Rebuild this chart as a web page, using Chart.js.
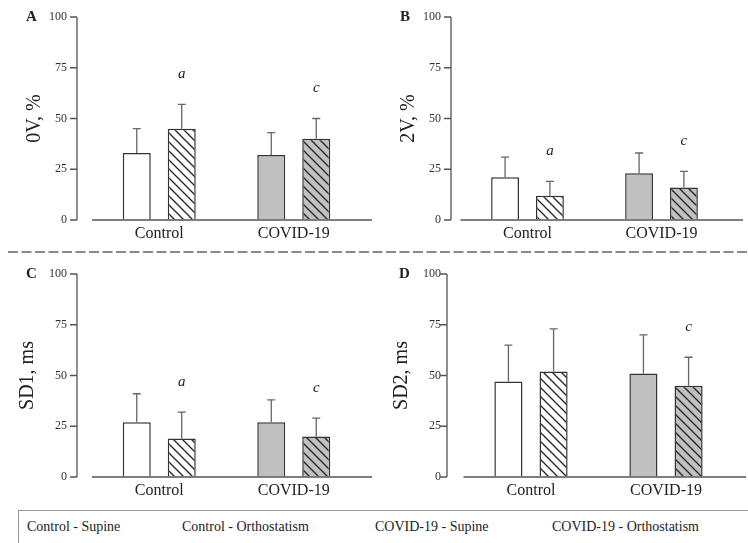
<!DOCTYPE html>
<html>
<head>
<meta charset="utf-8">
<script src="https://cdn.jsdelivr.net/npm/chart.js@4.4.0/dist/chart.umd.min.js"></script>
<style>
  body { margin: 0; background: #fff; width: 748px; height: 543px; overflow: hidden; position: relative;
         font-family: 'Liberation Serif', 'Times New Roman', serif; color: #222; }
  .panel { position: absolute; width: 374px; height: 248px; }
  .tag { position: absolute; font-weight: bold; font-size: 15px; line-height: 1; }
  .legend { position: absolute; left: 18px; top: 510px; width: 740px; height: 40px;
            border: 1.5px solid #9a9a9a; box-sizing: border-box; }
  .item { position: absolute; top: 520px; font-size: 14px; line-height: 1; white-space: nowrap; }
</style>
</head>
<body>
<div class="panel" style="left:0;top:0"><canvas id="chartA" width="374" height="248"></canvas></div>
<div class="panel" style="left:374px;top:0"><canvas id="chartB" width="374" height="248"></canvas></div>
<div class="panel" style="left:0;top:257px"><canvas id="chartC" width="374" height="248"></canvas></div>
<div class="panel" style="left:374px;top:257px"><canvas id="chartD" width="374" height="248"></canvas></div>

<div class="tag" style="left:26px;top:9px">A</div>
<div class="tag" style="left:400px;top:9px">B</div>
<div class="tag" style="left:26px;top:266px">C</div>
<div class="tag" style="left:399px;top:266px">D</div>

<svg style="position:absolute;left:0;top:246px" width="748" height="12">
  <line x1="8" y1="6" x2="748" y2="6" stroke="#8a8a8a" stroke-width="2" stroke-dasharray="10 3.5"/>
</svg>

<div class="legend"></div>
<span class="item" style="left:27px">Control - Supine</span>
<span class="item" style="left:182px">Control - Orthostatism</span>
<span class="item" style="left:375px">COVID-19 - Supine</span>
<span class="item" style="left:552px">COVID-19 - Orthostatism</span>

<script>
// groups and axis ticks
const groups = ['Control', 'COVID-19'];
const yTicks = [0, 25, 50, 75, 100];

// A - 0V, %
const ovSupine = [33, 32];
const ovSupineSD = [12, 11];
const ovOrtho = [45, 40];
const ovOrthoSD = [12, 10];
const ovMarks = ['a', 'c'];

// B - 2V, %
const twoVSupine = [21, 23];
const twoVSupineSD = [10, 10];
const twoVOrtho = [12, 16];
const twoVOrthoSD = [7, 8];
const twoVMarks = ['a', 'c'];

// C - SD1, ms
const sd1Supine = [27, 27];
const sd1SupineSD = [14, 11];
const sd1Ortho = [19, 20];
const sd1OrthoSD = [13, 9];
const sd1Marks = ['a', 'c'];

// D - SD2, ms
const sd2Supine = [47, 51];
const sd2SupineSD = [18, 19];
const sd2Ortho = [52, 45];
const sd2OrthoSD = [21, 14];
const sd2Marks = ['', 'c'];

const FONT = "'Liberation Serif', 'Times New Roman', serif";

// diagonal hatch fill for the orthostatism bars
function hatch(base) {
    const c = document.createElement('canvas');
    c.width = 9; c.height = 9;
    const g = c.getContext('2d');
    g.fillStyle = base;
    g.fillRect(0, 0, 9, 9);
    g.strokeStyle = '#222';
    g.lineWidth = 1.3;
    g.beginPath();
    g.moveTo(-1, -1); g.lineTo(10, 10);
    g.moveTo(-1, 8); g.lineTo(1, 10);
    g.moveTo(8, -1); g.lineTo(10, 1);
    g.stroke();
    return g.createPattern(c, 'repeat');
}

// axis lines, error bars and significance letters
const errorBars = {
    id: 'errorBars',
    afterDatasetsDraw(chart, args, opts) {
        const ctx = chart.ctx;
        const y = chart.scales.y;
        const area = chart.chartArea;
        ctx.save();
        ctx.strokeStyle = '#555';
        ctx.lineWidth = 1.3;
        ctx.beginPath();
        ctx.moveTo(opts.axisX, y.getPixelForValue(100));
        ctx.lineTo(opts.axisX, y.getPixelForValue(0));
        y.ticks.forEach(t => {
            const py = y.getPixelForValue(t.value);
            ctx.moveTo(opts.axisX - 7, py);
            ctx.lineTo(opts.axisX, py);
        });
        ctx.stroke();

        ctx.lineWidth = 1.6;
        ctx.beginPath();
        ctx.moveTo(area.left, y.getPixelForValue(0));
        ctx.lineTo(opts.xEnd, y.getPixelForValue(0));
        ctx.stroke();

        chart.data.datasets.forEach((ds, i) => {
            chart.getDatasetMeta(i).data.forEach((bar, j) => {
                const top = y.getPixelForValue(ds.data[j] + ds.sd[j]);
                ctx.strokeStyle = '#666';
                ctx.lineWidth = 1.3;
                ctx.beginPath();
                ctx.moveTo(bar.x, bar.y);
                ctx.lineTo(bar.x, top);
                ctx.moveTo(bar.x - 4, top);
                ctx.lineTo(bar.x + 4, top);
                ctx.stroke();
                if (ds.marks && ds.marks[j]) {
                    ctx.fillStyle = '#222';
                    ctx.font = 'italic 15px ' + FONT;
                    ctx.textAlign = 'center';
                    ctx.textBaseline = 'middle';
                    ctx.fillText(ds.marks[j], bar.x, top - 30);
                }
            });
        });
        ctx.restore();
    }
};

function makePanel(id, title, supine, supineSD, ortho, orthoSD, marks, lay) {
    const ctx = document.getElementById(id).getContext('2d');
    return new Chart(ctx, {
        type: 'bar',
        data: {
            labels: groups,
            datasets: [{
                label: 'Supine',
                data: supine,
                sd: supineSD,
                backgroundColor: ['#ffffff', '#c0c0c0'],
                borderColor: '#333',
                borderWidth: 1.5,
                categoryPercentage: 0.669,
                barPercentage: 0.622
            }, {
                label: 'Orthostatism',
                data: ortho,
                sd: orthoSD,
                marks: marks,
                backgroundColor: [hatch('#ffffff'), hatch('#c0c0c0')],
                borderColor: '#333',
                borderWidth: 1.5,
                categoryPercentage: 0.669,
                barPercentage: 0.622
            }]
        },
        options: {
            responsive: false,
            animation: false,
            events: [],
            layout: { padding: { top: 17, right: 374 - lay.right, left: 0, bottom: 0 } },
            plugins: {
                legend: { display: false },
                tooltip: { enabled: false },
                errorBars: { axisX: lay.axisX, xEnd: lay.xEnd }
            },
            scales: {
                x: {
                    grid: { display: false, drawTicks: false },
                    border: { display: false },
                    ticks: { color: '#222', padding: 4, font: { family: FONT, size: 16 } },
                    afterFit: s => { s.height = 28; }
                },
                y: {
                    min: 0,
                    max: 100,
                    afterBuildTicks: s => { s.ticks = yTicks.map(v => ({ value: v })); },
                    // invisible tick marks push the labels out to the drawn axis
                    grid: { display: true, drawOnChartArea: false, drawTicks: true,
                            tickLength: lay.left - 67, color: 'rgba(0,0,0,0)' },
                    border: { display: false },
                    ticks: { color: '#333', padding: 0, font: { family: FONT, size: 12 } },
                    title: {
                        display: true,
                        text: title,
                        color: '#222',
                        font: { family: FONT, size: 20 },
                        padding: { top: lay.titlePad, bottom: 0 }
                    },
                    afterFit: s => { s.width = lay.left; }
                }
            }
        },
        plugins: [errorBars]
    });
}

makePanel('chartA', '0V, %', ovSupine, ovSupineSD, ovOrtho, ovOrthoSD, ovMarks,
    { left: 92, right: 361, axisX: 77, xEnd: 372, titlePad: 23 });
makePanel('chartB', '2V, %', twoVSupine, twoVSupineSD, twoVOrtho, twoVOrthoSD, twoVMarks,
    { left: 86.5, right: 354.5, axisX: 77, xEnd: 369, titlePad: 23 });
makePanel('chartC', 'SD1, ms', sd1Supine, sd1SupineSD, sd1Ortho, sd1OrthoSD, sd1Marks,
    { left: 92, right: 361, axisX: 77, xEnd: 372, titlePad: 16 });
makePanel('chartD', 'SD2, ms', sd2Supine, sd2SupineSD, sd2Ortho, sd2OrthoSD, sd2Marks,
    { left: 89.5, right: 359.5, axisX: 73, xEnd: 372, titlePad: 16 });
</script>
</body>
</html>
